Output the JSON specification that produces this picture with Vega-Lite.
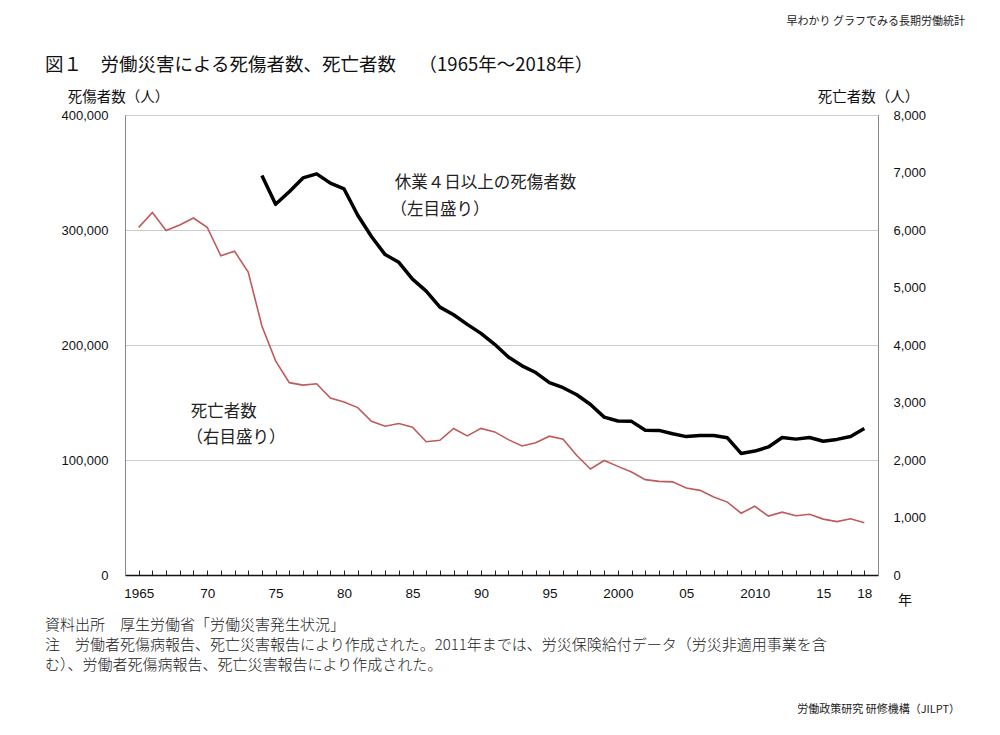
{
  "$schema": "https://vega.github.io/schema/vega-lite/v6.json",
  "width": 753,
  "height": 460,
  "autosize": {"type": "none"},
  "padding": {"left": 125, "top": 115, "right": 122, "bottom": 160},
  "background": "white",
  "config": {
    "view": {"stroke": "#888", "strokeWidth": 1},
    "font": "Noto Sans CJK JP",
    "axis": {"labelFont": "Liberation Sans", "labelColor": "#111", "titleFont": "Noto Sans CJK JP"},
    "axisX": {
      "labelOverlap": false,
      "labelFlush": false,
      "labelFontSize": 13.5,
      "labelPadding": 16,
      "tickSize": -5,
      "tickWidth": 1,
      "tickColor": "#222",
      "domainColor": "#111",
      "domainWidth": 1.5,
      "grid": false
    }
  },
  "datasets": {
    "main": [
      {"year": 1965, "deaths": 6046},
      {"year": 1966, "deaths": 6303},
      {"year": 1967, "deaths": 5990},
      {"year": 1968, "deaths": 6088},
      {"year": 1969, "deaths": 6208},
      {"year": 1970, "deaths": 6048},
      {"year": 1971, "deaths": 5552},
      {"year": 1972, "deaths": 5631},
      {"year": 1973, "deaths": 5269},
      {"year": 1974, "injuries": 347407, "deaths": 4330},
      {"year": 1975, "injuries": 322322, "deaths": 3725},
      {"year": 1976, "injuries": 333311, "deaths": 3345},
      {"year": 1977, "injuries": 345293, "deaths": 3302},
      {"year": 1978, "injuries": 348826, "deaths": 3326},
      {"year": 1979, "injuries": 340731, "deaths": 3077},
      {"year": 1980, "injuries": 335706, "deaths": 3009},
      {"year": 1981, "injuries": 312844, "deaths": 2912},
      {"year": 1982, "injuries": 294319, "deaths": 2674},
      {"year": 1983, "injuries": 278623, "deaths": 2588},
      {"year": 1984, "injuries": 271884, "deaths": 2635},
      {"year": 1985, "injuries": 257240, "deaths": 2572},
      {"year": 1986, "injuries": 246891, "deaths": 2318},
      {"year": 1987, "injuries": 232953, "deaths": 2342},
      {"year": 1988, "injuries": 226318, "deaths": 2549},
      {"year": 1989, "injuries": 217964, "deaths": 2419},
      {"year": 1990, "injuries": 210108, "deaths": 2550},
      {"year": 1991, "injuries": 200633, "deaths": 2489},
      {"year": 1992, "injuries": 189589, "deaths": 2354},
      {"year": 1993, "injuries": 181900, "deaths": 2245},
      {"year": 1994, "injuries": 176047, "deaths": 2301},
      {"year": 1995, "injuries": 167316, "deaths": 2414},
      {"year": 1996, "injuries": 162862, "deaths": 2363},
      {"year": 1997, "injuries": 156726, "deaths": 2078},
      {"year": 1998, "injuries": 148248, "deaths": 1844},
      {"year": 1999, "injuries": 137316, "deaths": 1992},
      {"year": 2000, "injuries": 133948, "deaths": 1889},
      {"year": 2001, "injuries": 133598, "deaths": 1790},
      {"year": 2002, "injuries": 125918, "deaths": 1658},
      {"year": 2003, "injuries": 125750, "deaths": 1628},
      {"year": 2004, "injuries": 122804, "deaths": 1620},
      {"year": 2005, "injuries": 120354, "deaths": 1514},
      {"year": 2006, "injuries": 121378, "deaths": 1472},
      {"year": 2007, "injuries": 121356, "deaths": 1357},
      {"year": 2008, "injuries": 119291, "deaths": 1268},
      {"year": 2009, "injuries": 105718, "deaths": 1075},
      {"year": 2010, "injuries": 107759, "deaths": 1195},
      {"year": 2011, "injuries": 111349, "deaths": 1024},
      {"year": 2012, "injuries": 119576, "deaths": 1093},
      {"year": 2013, "injuries": 118157, "deaths": 1030},
      {"year": 2014, "injuries": 119535, "deaths": 1057},
      {"year": 2015, "injuries": 116311, "deaths": 972},
      {"year": 2016, "injuries": 117910, "deaths": 928},
      {"year": 2017, "injuries": 120460, "deaths": 978},
      {"year": 2018, "injuries": 127329, "deaths": 909}
    ],
    "labels": [
      {"year": 1983.7, "value": 340500, "label": "休業４日以上の死傷者数"},
      {"year": 1983.4, "value": 317500, "label": "（左目盛り）"},
      {"year": 1968.8, "value": 142000, "label": "死亡者数"},
      {"year": 1968.5, "value": 119000, "label": "（右目盛り）"}
    ]
  },
  "layer": [
    {
      "data": {"name": "main"},
      "mark": {"type": "line", "color": "#000000", "strokeWidth": 3.5, "strokeJoin": "round"},
      "encoding": {
        "x": {
          "field": "year", "type": "quantitative",
          "scale": {"domain": [1964, 2019], "nice": false, "zero": false},
          "axis": {
            "orient": "bottom",
            "title": null,
            "tickCount": 80,
            "values": [1965,1966,1967,1968,1969,1970,1971,1972,1973,1974,1975,1976,1977,1978,1979,1980,1981,1982,1983,1984,1985,1986,1987,1988,1989,1990,1991,1992,1993,1994,1995,1996,1997,1998,1999,2000,2001,2002,2003,2004,2005,2006,2007,2008,2009,2010,2011,2012,2013,2014,2015,2016,2017,2018],
            "labelExpr": "indexof([1965,1970,1975,1980,1985,1990,1995,2000,2005,2010,2015,2018], datum.value) >= 0 ? ((datum.value == 1965 || datum.value == 2000 || datum.value == 2010) ? toString(datum.value) : substring(toString(datum.value), 2)) : ''",
            "labelOverlap": false
          }
        },
        "y": {
          "field": "injuries", "type": "quantitative",
          "scale": {"domain": [0, 400000], "nice": false},
          "axis": {
            "orient": "left",
            "values": [0, 100000, 200000, 300000, 400000],
            "format": ",d",
            "grid": true,
            "gridColor": "#cccccc",
            "ticks": false,
            "domainColor": "#888",
            "labelFontSize": 13,
            "labelPadding": 17,
            "title": "死傷者数（人）",
            "titleAngle": 0,
            "titleX": -7,
            "titleY": -18,
            "titleAlign": "center",
            "titleBaseline": "middle",
            "titleFontSize": 14.5,
            "titleFontWeight": "normal",
            "titleColor": "#111"
          }
        }
      }
    },
    {
      "data": {"name": "main"},
      "mark": {"type": "line", "color": "#bf5b5b", "strokeWidth": 1.6},
      "encoding": {
        "x": {"field": "year", "type": "quantitative"},
        "y": {
          "field": "deaths", "type": "quantitative",
          "scale": {"domain": [0, 8000], "nice": false},
          "axis": {
            "orient": "right",
            "values": [0, 1000, 2000, 3000, 4000, 5000, 6000, 7000, 8000],
            "format": ",d",
            "grid": false,
            "ticks": false,
            "domainColor": "#888",
            "labelFontSize": 13,
            "labelPadding": 15,
            "title": "死亡者数（人）",
            "titleAngle": 0,
            "titleX": -10,
            "titleY": -18,
            "titleAlign": "center",
            "titleBaseline": "middle",
            "titleFontSize": 14.5,
            "titleFontWeight": "normal",
            "titleColor": "#111"
          }
        }
      }
    },
    {
      "data": {"name": "labels"},
      "mark": {"type": "text", "align": "left", "baseline": "middle", "fontSize": 16.5, "color": "#222"},
      "encoding": {
        "x": {"field": "year", "type": "quantitative"},
        "y": {"field": "value", "type": "quantitative", "scale": {"domain": [0, 400000], "nice": false}, "axis": null},
        "text": {"field": "label"}
      }
    },
    {
      "data": {"values": [{"t": "図１　労働災害による死傷者数、死亡者数　 （1965年～2018年）"}]},
      "mark": {"type": "text", "x": -80, "y": -50, "align": "left", "baseline": "middle", "fontSize": 18.5, "fontWeight": "normal", "color": "#111"},
      "encoding": {"text": {"field": "t"}}
    },
    {
      "data": {"values": [{"t": "早わかり グラフでみる長期労働統計"}]},
      "mark": {"type": "text", "x": 840, "y": -93, "align": "right", "baseline": "middle", "fontSize": 11, "color": "#222"},
      "encoding": {"text": {"field": "t"}}
    },
    {
      "data": {"values": [{"t": "年"}]},
      "mark": {"type": "text", "x": 780, "y": 486, "align": "center", "baseline": "middle", "fontSize": 14, "color": "#111"},
      "encoding": {"text": {"field": "t"}}
    },
    {
      "data": {"values": [{"t": "資料出所　厚生労働省「労働災害発生状況」"}]},
      "mark": {"type": "text", "x": -80, "y": 510, "align": "left", "baseline": "middle", "fontSize": 15, "fontWeight": 300, "color": "#222"},
      "encoding": {"text": {"field": "t"}}
    },
    {
      "data": {"values": [{"t": "注　労働者死傷病報告、死亡災害報告により作成された。2011年までは、労災保険給付データ（労災非適用事業を含"}]},
      "mark": {"type": "text", "x": -80, "y": 530, "align": "left", "baseline": "middle", "fontSize": 15, "fontWeight": 300, "color": "#222"},
      "encoding": {"text": {"field": "t"}}
    },
    {
      "data": {"values": [{"t": "む）、労働者死傷病報告、死亡災害報告により作成された。"}]},
      "mark": {"type": "text", "x": -80, "y": 550, "align": "left", "baseline": "middle", "fontSize": 15, "fontWeight": 300, "color": "#222"},
      "encoding": {"text": {"field": "t"}}
    },
    {
      "data": {"values": [{"t": "労働政策研究 研修機構（JILPT）"}]},
      "mark": {"type": "text", "x": 835, "y": 595, "align": "right", "baseline": "middle", "fontSize": 11, "color": "#222"},
      "encoding": {"text": {"field": "t"}}
    }
  ],
  "resolve": {"scale": {"y": "independent"}}
}
